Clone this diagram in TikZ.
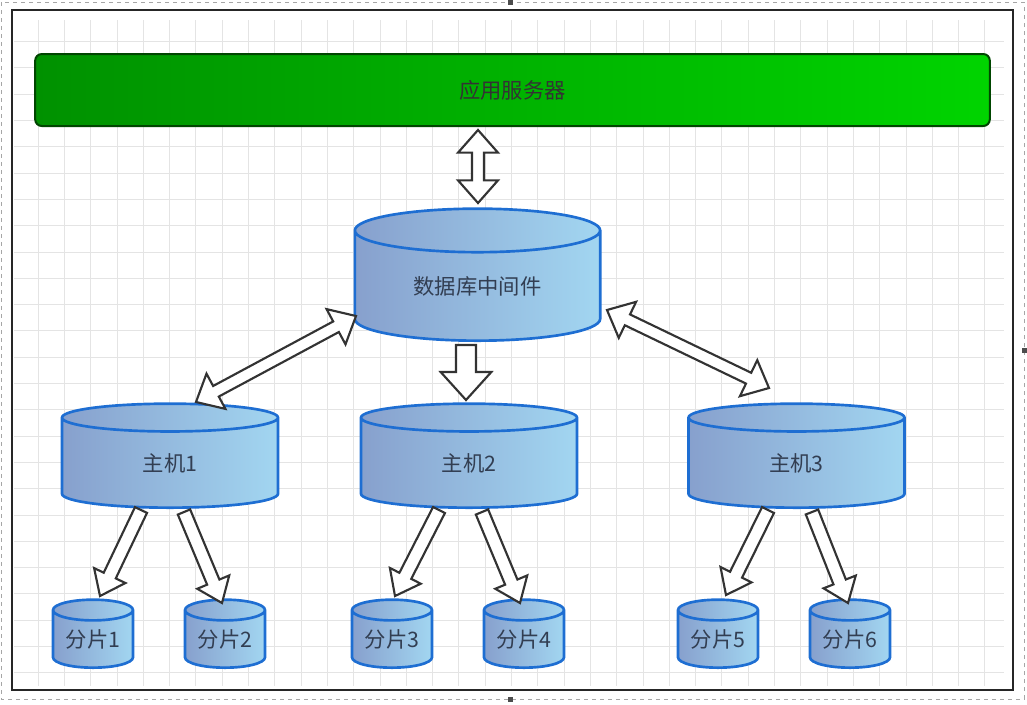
\documentclass[tikz,border=0pt]{standalone}
\usepackage{fontspec}
\usetikzlibrary{shapes.geometric,calc}
\newfontfamily\cjk{Noto Sans CJK SC}

\definecolor{cylleft}{RGB}{135,160,205}
\definecolor{cylright}{RGB}{162,214,241}
\definecolor{cylline}{RGB}{30,110,210}
\definecolor{appleft}{RGB}{0,145,0}
\definecolor{appright}{RGB}{0,212,0}
\definecolor{appline}{RGB}{0,70,0}
\definecolor{labeltext}{RGB}{50,62,82}
\definecolor{gridgray}{RGB}{228,228,228}

% hollow block arrows: from, to, half shaft, half head, head length
\newcommand{\blkarrow}[5]{%
  \draw[blockarrow] ($(#1)!#3!90:(#2)$) -- ($(#2)!#5!(#1)!#3!-90:(#1)$)
    -- ($(#2)!#5!(#1)!#4!-90:(#1)$) -- (#2) -- ($(#2)!#5!(#1)!#4!90:(#1)$)
    -- ($(#2)!#5!(#1)!#3!90:(#1)$) -- ($(#1)!#3!-90:(#2)$) -- cycle;}
\newcommand{\blkdarrow}[5]{%
  \draw[blockarrow] (#1) -- ($(#1)!#5!(#2)!#4!90:(#2)$) -- ($(#1)!#5!(#2)!#3!90:(#2)$)
    -- ($(#2)!#5!(#1)!#3!-90:(#1)$) -- ($(#2)!#5!(#1)!#4!-90:(#1)$) -- (#2)
    -- ($(#2)!#5!(#1)!#4!90:(#1)$) -- ($(#2)!#5!(#1)!#3!90:(#1)$)
    -- ($(#1)!#5!(#2)!#3!-90:(#2)$) -- ($(#1)!#5!(#2)!#4!-90:(#2)$) -- cycle;}

\begin{document}
\begin{tikzpicture}[x=0.75pt, y=-0.75pt,
    gridline/.style={draw=gridgray, line width=0.75pt},
    server/.style={rectangle, rounded corners=5pt, draw=appline, line width=1.5pt,
      left color=appleft, right color=appright, minimum width=716pt, minimum height=54pt,
      font=\cjk\fontsize{16}{18}\selectfont, text=black!80},
    db/.style={cylinder, shape border rotate=90, draw=cylline, line width=2pt,
      left color=cylleft, right color=cylright, inner sep=0pt, anchor=south,
      font=\cjk\fontsize{16}{18}\selectfont, text=labeltext},
    middb/.style={db, minimum width=184pt, minimum height=99pt, aspect=0.34},
    hostdb/.style={db, minimum width=162pt, minimum height=78pt, aspect=0.51},
    sharddb/.style={db, minimum width=60pt, minimum height=51pt, aspect=0.38},
    blockarrow/.style={draw=black!80, fill=white, line width=1.6pt, line join=miter}]
  \useasboundingbox (0,0) rectangle (1027,704);

  % background grid and frame
  \foreach \i in {1,...,37}
    \draw[gridline] ({11.8+26.3*\i},20) -- ({11.8+26.3*\i},686);
  \foreach \j in {1,...,25}
    \draw[gridline] (14,{15.3+26.3*\j}) -- (1004,{15.3+26.3*\j});
  \draw[dashed, black!35, line width=0.6pt] (1,2) rectangle (1024,699);
  \fill[black!70] (508,0) rectangle (513,5);
  \fill[black!70] (1022,348) rectangle (1027,353);
  \fill[black!70] (508,697) rectangle (513,702);
  \draw[line width=2.2pt, black!85] (12,10) rectangle (1013,690);

  % application server
  \node[server] (app) at (512.5,90) {应用服务器};

  % middleware and hosts (placed by their bottom)
  \node[middb] (mid) at (477.5,342) {数据库中间件};
  \node[hostdb] (host1) at (170,509) {主机1};
  \node[hostdb] (host2) at (469,509) {主机2};
  \node[hostdb] (host3) at (796.5,509) {主机3};

  % shards
  \node[sharddb] (shard1) at (93,669) {分片1};
  \node[sharddb] (shard2) at (225,669) {分片2};
  \node[sharddb] (shard3) at (392,669) {分片3};
  \node[sharddb] (shard4) at (524,669) {分片4};
  \node[sharddb] (shard5) at (718,669) {分片5};
  \node[sharddb] (shard6) at (850,669) {分片6};

  % arrow ends
  \coordinate (appin) at (478,130);
  \coordinate (midtop) at (478,203);
  \coordinate (midleft) at (356,316);
  \coordinate (hostonein) at (196,402);
  \coordinate (midright) at (607,310);
  \coordinate (hostthreein) at (769,388);
  \coordinate (midbot) at (466,345);
  \coordinate (hosttwoin) at (466,400);
  \coordinate (hostonea) at (141,510);
  \coordinate (hostoneb) at (184,512);
  \coordinate (hosttwoa) at (439,510);
  \coordinate (hosttwob) at (482,512);
  \coordinate (hostthreea) at (768,510);
  \coordinate (hostthreeb) at (812,512);
  \coordinate (shardonein) at (100,596);
  \coordinate (shardtwoin) at (222,603);
  \coordinate (shardthreein) at (395,596);
  \coordinate (shardfourin) at (520,603);
  \coordinate (shardfivein) at (726,595);
  \coordinate (shardsixin) at (848,603);

  % block arrows
  \blkdarrow{appin}{midtop}{4.5pt}{15pt}{17pt}
  \blkdarrow{midleft}{hostonein}{4.5pt}{15pt}{17pt}
  \blkdarrow{midright}{hostthreein}{4.5pt}{15pt}{17pt}
  \blkarrow{midbot}{hosttwoin}{7.5pt}{19pt}{21pt}
  \blkarrow{hostonea}{shardonein}{5pt}{13pt}{17pt}
  \blkarrow{hostoneb}{shardtwoin}{5pt}{13pt}{17pt}
  \blkarrow{hosttwoa}{shardthreein}{5pt}{13pt}{17pt}
  \blkarrow{hosttwob}{shardfourin}{5pt}{13pt}{17pt}
  \blkarrow{hostthreea}{shardfivein}{5pt}{13pt}{17pt}
  \blkarrow{hostthreeb}{shardsixin}{5pt}{13pt}{17pt}
\end{tikzpicture}
\end{document}
